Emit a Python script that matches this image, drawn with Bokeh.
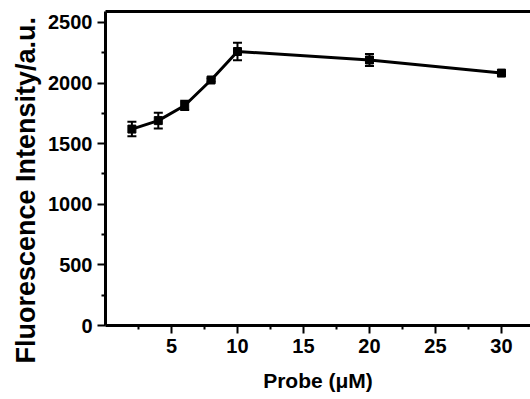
from bokeh.plotting import figure
from bokeh.models import ColumnDataSource, Whisker, FixedTicker, LinearAxis, Range1d, TeeHead, Title
from bokeh.embed import file_html
from bokeh.resources import INLINE

probe = [2, 4, 6, 8, 10, 20, 30]
intensity = [1620, 1690, 1815, 2025, 2260, 2190, 2082]
error = [60, 65, 38, 12, 72, 50, 12]

x_ticks = [5, 10, 15, 20, 25, 30]
x_minor = [2.5, 7.5, 12.5, 17.5, 22.5, 27.5]
y_ticks = [0, 500, 1000, 1500, 2000, 2500]
y_minor = [250, 750, 1250, 1750, 2250]

lower = [v - e for v, e in zip(intensity, error)]
upper = [v + e for v, e in zip(intensity, error)]
src = ColumnDataSource(dict(x=probe, y=intensity, lo=lower, hi=upper))

FONT = "Liberation Sans"

p = figure(width=530, height=399, output_backend="svg", toolbar_location=None,
           x_range=Range1d(0, 32.2), y_range=Range1d(0, 2590),
           min_border_left=105, min_border_top=11, min_border_bottom=74, min_border_right=0)
p.outline_line_color = None
p.grid.visible = False
p.background_fill_color = "white"
p.border_fill_color = "white"

p.line("x", "y", source=src, line_color="black", line_width=3)
p.scatter("x", "y", source=src, marker="square", size=8, color="black")
w = Whisker(source=src, base="x", lower="lo", upper="hi", line_color="black", line_width=2,
            upper_head=TeeHead(size=9, line_color="black", line_width=2),
            lower_head=TeeHead(size=9, line_color="black", line_width=2))
p.add_layout(w)

xa = p.xaxis[0]
xa.ticker = FixedTicker(ticks=x_ticks, minor_ticks=x_minor)
xa.axis_label = "Probe (μM)"
ya = p.yaxis[0]
ya.ticker = FixedTicker(ticks=y_ticks, minor_ticks=y_minor)

for ax in (xa, ya):
    ax.axis_line_width = 3
    ax.axis_line_color = "black"
    ax.major_tick_line_width = 2
    ax.minor_tick_line_width = 2
    ax.major_tick_out = 8
    ax.major_tick_in = 0
    ax.minor_tick_out = 4
    ax.minor_tick_in = 0
    ax.major_label_text_font = FONT
    ax.major_label_text_font_style = "bold"
    ax.major_label_text_font_size = "20px"
    ax.major_label_text_color = "black"
    ax.axis_label_text_font = FONT
    ax.axis_label_text_font_style = "bold"
    ax.axis_label_text_color = "black"

xa.axis_label_text_font_size = "21px"
xa.axis_label_standoff = 13
xa.major_label_standoff = 5
ya.major_label_standoff = 5

ytitle = Title(text="Fluorescence Intensity/a.u.", align="left", offset=-38,
               standoff=9, text_font=FONT, text_font_style="bold",
               text_font_size="27px", text_color="black")
p.add_layout(ytitle, "left")

top = LinearAxis(ticker=FixedTicker(ticks=[]), major_label_text_font_size="0px",
                 major_label_standoff=0,
                 axis_line_width=3, axis_line_color="black",
                 major_tick_line_color=None, minor_tick_line_color=None)
p.add_layout(top, "above")

open("out.html", "w").write(file_html(p, INLINE))
